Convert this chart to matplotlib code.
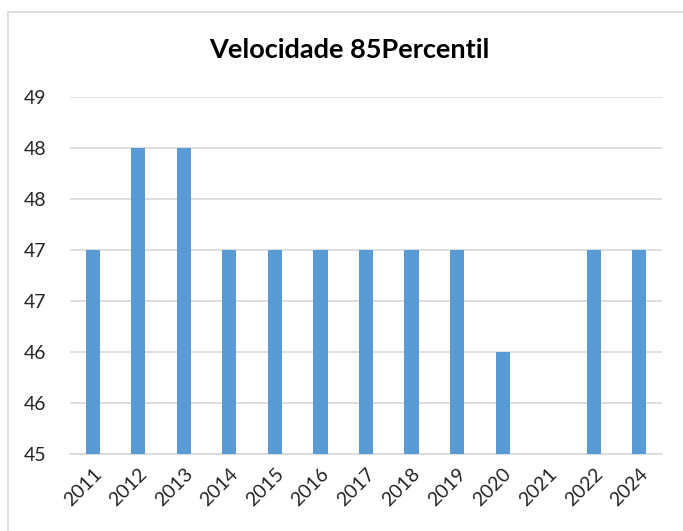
import matplotlib
matplotlib.use("Agg")
import matplotlib.pyplot as plt
import numpy as np
import math
from matplotlib.patches import Rectangle

years = ["2011", "2012", "2013", "2014", "2015", "2016", "2017", "2018", "2019", "2020", "2021", "2022", "2024"]
values = [47, 48, 48, 47, 47, 47, 47, 47, 47, 46, 45, 47, 47]
yticks = [45, 45.5, 46, 46.5, 47, 47.5, 48, 48.5]
ytick_labels = [str(int(math.floor(v + 0.5))) for v in yticks]

plt.rcParams['font.family'] = ['Lato', 'DejaVu Sans']

fig = plt.figure(figsize=(6.83, 5.31), dpi=100)
fig.patches.append(Rectangle((8/683, -0.1), 1.2, (531-12)/531 + 0.1, transform=fig.transFigure,
                             fill=False, edgecolor="#d9d9d9", linewidth=1.2))
ax = fig.add_axes([70/683, (531-454)/531, (662-70)/683, (454-97)/531])

x = np.arange(len(years))
ax.bar(x, [v - 45 for v in values], bottom=45, width=0.31, color="#5b9bd5", zorder=3)
ax.set_xlim(-0.5, len(years) - 0.5)
ax.set_ylim(45, 48.5)
ax.set_yticks(yticks)
ax.set_yticklabels(ytick_labels, fontsize=14, color="#262626")
ax.set_xticks(x)
ax.set_xticklabels(years, rotation=45, ha="right", rotation_mode="anchor", fontsize=14, color="#262626")
ax.tick_params(axis="both", length=0)
ax.tick_params(axis="y", pad=17)
ax.tick_params(axis="x", pad=8)
ax.grid(axis="y", color="#d9d9d9", linewidth=1.2, zorder=0)
for s in ["top", "right", "left"]:
    ax.spines[s].set_visible(False)
ax.spines["bottom"].set_color("#d9d9d9")
ax.spines["bottom"].set_linewidth(1.2)
fig.text(349/683, 1 - 50/531, "Velocidade 85Percentil", ha="center", va="center",
         fontsize=19.5, fontweight="bold", color="#000000")
fig.savefig("out.png", dpi=100)
